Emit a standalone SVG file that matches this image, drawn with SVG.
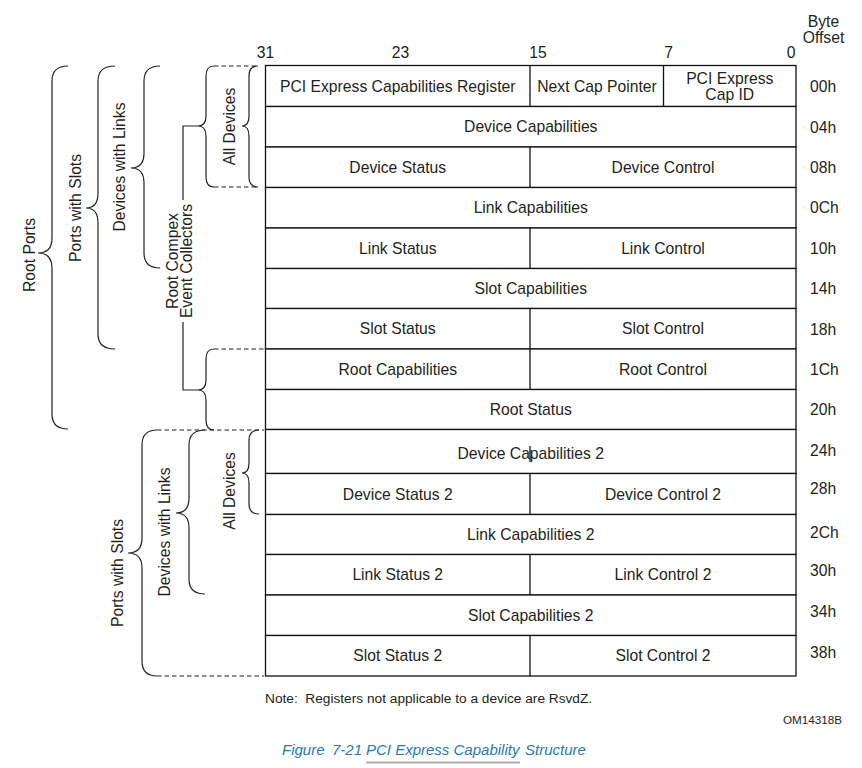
<svg xmlns="http://www.w3.org/2000/svg" width="862" height="768" viewBox="0 0 862 768">
<style>
text{font-family:"Liberation Sans",Arial,sans-serif;fill:#231f20;font-size:15.7px}
.c{text-anchor:middle}
.o{text-anchor:start}
.cell{fill:#fff;stroke:#111;stroke-width:1.3}
.div{stroke:#111;stroke-width:1.3}
.br{fill:none;stroke:#222;stroke-width:1.2}
.dash{fill:none;stroke:#222;stroke-width:1.2;stroke-dasharray:4.5 3}
.ln{fill:none;stroke:#222;stroke-width:1.2}
.note{font-size:13.7px}
.om{font-size:11.7px;text-anchor:end}
.cap{font-family:"Liberation Sans",Arial,sans-serif;font-style:italic;fill:#2a78b8;font-size:15px}
</style>
<rect width="862" height="768" fill="#fff"/>

<g id="header">
<text class="c" x="823.5" y="27.3">Byte</text>
<text class="c" x="823.5" y="43">Offset</text>
<text class="c" x="265.5" y="57.5">31</text>
<text class="c" x="400.5" y="57.5">23</text>
<text class="c" x="538" y="57.5">15</text>
<text class="c" x="668.5" y="57.5">7</text>
<text class="c" x="791" y="57.5">0</text>
</g>

<g id="row-00h">
<rect class="cell" x="265.5" y="65.5" width="530.5" height="41"/>
<line class="div" x1="530" y1="65.5" x2="530" y2="106.5"/>
<line class="div" x1="663.5" y1="65.5" x2="663.5" y2="106.5"/>
<text class="c" x="397.75" y="91.5">PCI Express Capabilities Register</text>
<text class="c" x="597" y="91.5">Next Cap Pointer</text>
<text class="c" x="729.75" y="83.5">PCI Express</text>
<text class="c" x="729.75" y="99.5">Cap ID</text>
<text class="o" x="810" y="92.1">00h</text>
</g>
<g id="row-04h">
<rect class="cell" x="265.5" y="106.5" width="530.5" height="40.5"/>
<text class="c" x="530.75" y="132.3">Device Capabilities</text>
<text class="o" x="810" y="132.5">04h</text>
</g>
<g id="row-08h">
<rect class="cell" x="265.5" y="147" width="530.5" height="40.5"/>
<line class="div" x1="530" y1="147" x2="530" y2="187.5"/>
<text class="c" x="397.75" y="172.8">Device Status</text>
<text class="c" x="663" y="172.8">Device Control</text>
<text class="o" x="810" y="172.9">08h</text>
</g>
<g id="row-0Ch">
<rect class="cell" x="265.5" y="187.5" width="530.5" height="40.5"/>
<text class="c" x="530.75" y="213.3">Link Capabilities</text>
<text class="o" x="810" y="213.3">0Ch</text>
</g>
<g id="row-10h">
<rect class="cell" x="265.5" y="228" width="530.5" height="40.5"/>
<line class="div" x1="530" y1="228" x2="530" y2="268.5"/>
<text class="c" x="397.75" y="253.8">Link Status</text>
<text class="c" x="663" y="253.8">Link Control</text>
<text class="o" x="810" y="253.7">10h</text>
</g>
<g id="row-14h">
<rect class="cell" x="265.5" y="268.5" width="530.5" height="40"/>
<text class="c" x="530.75" y="294">Slot Capabilities</text>
<text class="o" x="810" y="294.1">14h</text>
</g>
<g id="row-18h">
<rect class="cell" x="265.5" y="308.5" width="530.5" height="40.5"/>
<line class="div" x1="530" y1="308.5" x2="530" y2="349"/>
<text class="c" x="397.75" y="334.3">Slot Status</text>
<text class="c" x="663" y="334.3">Slot Control</text>
<text class="o" x="810" y="334.5">18h</text>
</g>
<g id="row-1Ch">
<rect class="cell" x="265.5" y="349" width="530.5" height="40.5"/>
<line class="div" x1="530" y1="349" x2="530" y2="389.5"/>
<text class="c" x="397.75" y="375">Root Capabilities</text>
<text class="c" x="663" y="374.5">Root Control</text>
<text class="o" x="810" y="374.9">1Ch</text>
</g>
<g id="row-20h">
<rect class="cell" x="265.5" y="389.5" width="530.5" height="40"/>
<text class="c" x="530.75" y="415">Root Status</text>
<text class="o" x="810" y="415.3">20h</text>
</g>
<g id="row-24h">
<rect class="cell" x="265.5" y="429.5" width="530.5" height="44"/>
<line class="div" x1="530" y1="446" x2="530" y2="462"/>
<text class="c" x="530.75" y="458.5">Device Capabilities 2</text>
<text class="o" x="810" y="455.7">24h</text>
</g>
<g id="row-28h">
<rect class="cell" x="265.5" y="473.5" width="530.5" height="41"/>
<line class="div" x1="530" y1="473.5" x2="530" y2="514.5"/>
<text class="c" x="397.75" y="499.5">Device Status 2</text>
<text class="c" x="663" y="499.5">Device Control 2</text>
<text class="o" x="810" y="494.2">28h</text>
</g>
<g id="row-2Ch">
<rect class="cell" x="265.5" y="514.5" width="530.5" height="40"/>
<text class="c" x="530.75" y="539.8">Link Capabilities 2</text>
<text class="o" x="810" y="537.9">2Ch</text>
</g>
<g id="row-30h">
<rect class="cell" x="265.5" y="554.5" width="530.5" height="40.5"/>
<line class="div" x1="530" y1="554.5" x2="530" y2="595"/>
<text class="c" x="397.75" y="580">Link Status 2</text>
<text class="c" x="663" y="580">Link Control 2</text>
<text class="o" x="810" y="576.3">30h</text>
</g>
<g id="row-34h">
<rect class="cell" x="265.5" y="595" width="530.5" height="40.5"/>
<text class="c" x="530.75" y="621">Slot Capabilities 2</text>
<text class="o" x="810" y="617.3">34h</text>
</g>
<g id="row-38h">
<rect class="cell" x="265.5" y="635.5" width="530.5" height="40.5"/>
<line class="div" x1="530" y1="635.5" x2="530" y2="676"/>
<text class="c" x="397.75" y="661.3">Slot Status 2</text>
<text class="c" x="663" y="661.3">Slot Control 2</text>
<text class="o" x="810" y="657.9">38h</text>
</g>

<g id="brace-root-ports">
<path class="br" d="M68,66 Q52,66 52,81 L52,238 Q52,253 38,253 Q52,253 52,268 L52,414 Q52,429 68,429"/>
<text class="c" transform="translate(34.5,255) rotate(-90)">Root Ports</text>
</g>
<g id="brace-ports-with-slots-1">
<path class="br" d="M115,66 Q98,66 98,81 L98,193 Q98,208 86,208 Q98,208 98,223 L98,334 Q98,349 115,349"/>
<text class="c" transform="translate(80.5,208) rotate(-90)">Ports with Slots</text>
</g>
<g id="brace-devices-with-links-1">
<path class="br" d="M160,66 Q144,66 144,81 L144,153 Q144,168 131,168 Q144,168 144,183 L144,253 Q144,268 160,268"/>
<text class="c" transform="translate(124.5,167) rotate(-90)">Devices with Links</text>
</g>
<g id="brace-all-devices-1">
<path class="br" d="M214,66 Q206,66 206,76 L206,116 Q206,126 198,126 Q206,126 206,136 L206,177 Q206,187 214,187"/>
<path class="br" d="M258,66 Q249,66 249,76 L249,116 Q249,126 242,126 Q249,126 249,136 L249,177 Q249,187 258,187"/>
<text class="c" transform="translate(235,126.5) rotate(-90)">All Devices</text>
</g>
<g id="root-complex-event-collectors">
<text class="c" transform="translate(177.5,261) rotate(-90)">Root Compex</text>
<text class="c" transform="translate(191.7,261) rotate(-90)">Event Collectors</text>
<path class="br" d="M214,349 Q206,349 206,359 L206,380 Q206,390 198,390 Q206,390 206,400 L206,420 Q206,430 214,430"/>
</g>
<g id="brace-ports-with-slots-2">
<path class="br" d="M157,430 Q142,430 142,445 L142,538 Q142,553 128,553 Q142,553 142,568 L142,661 Q142,676 157,676"/>
<text class="c" transform="translate(123,573) rotate(-90)">Ports with Slots</text>
</g>
<g id="brace-devices-with-links-2">
<path class="br" d="M205,430 Q189,430 189,445 L189,498 Q189,513 176,513 Q189,513 189,528 L189,579 Q189,594 205,594"/>
<text class="c" transform="translate(170,532) rotate(-90)">Devices with Links</text>
</g>
<g id="brace-all-devices-2">
<path class="br" d="M259,430 Q249,430 249,440 L249,463 Q249,473 242,473 Q249,473 249,483 L249,504 Q249,514 259,514"/>
<text class="c" transform="translate(234.5,491) rotate(-90)">All Devices</text>
</g>

<g id="connectors">
<line class="dash" x1="214" y1="66" x2="258" y2="66"/>
<line class="dash" x1="214" y1="187" x2="258" y2="187"/>
<line class="dash" x1="214" y1="349" x2="264" y2="349"/>
<line class="dash" x1="157" y1="430" x2="264" y2="430"/>
<line class="dash" x1="157" y1="676" x2="264" y2="676"/>
<path class="ln" d="M198,126 H183 V200"/>
<path class="ln" d="M183,322 V390 H198"/>
</g>

<g id="footer">
<text class="note" x="265" y="703" xml:space="preserve">Note:  Registers not applicable to a device are RsvdZ.</text>
<text class="om" x="842" y="724">OM14318B</text>
<text class="cap" y="755"><tspan x="282">Figure</tspan><tspan x="332">7-21</tspan><tspan x="366">PCI Express Capability</tspan><tspan x="525">Structure</tspan></text>
<line x1="366" y1="762.5" x2="520" y2="762.5" stroke="#b0b0b0" stroke-width="2"/>
</g>
</svg>
